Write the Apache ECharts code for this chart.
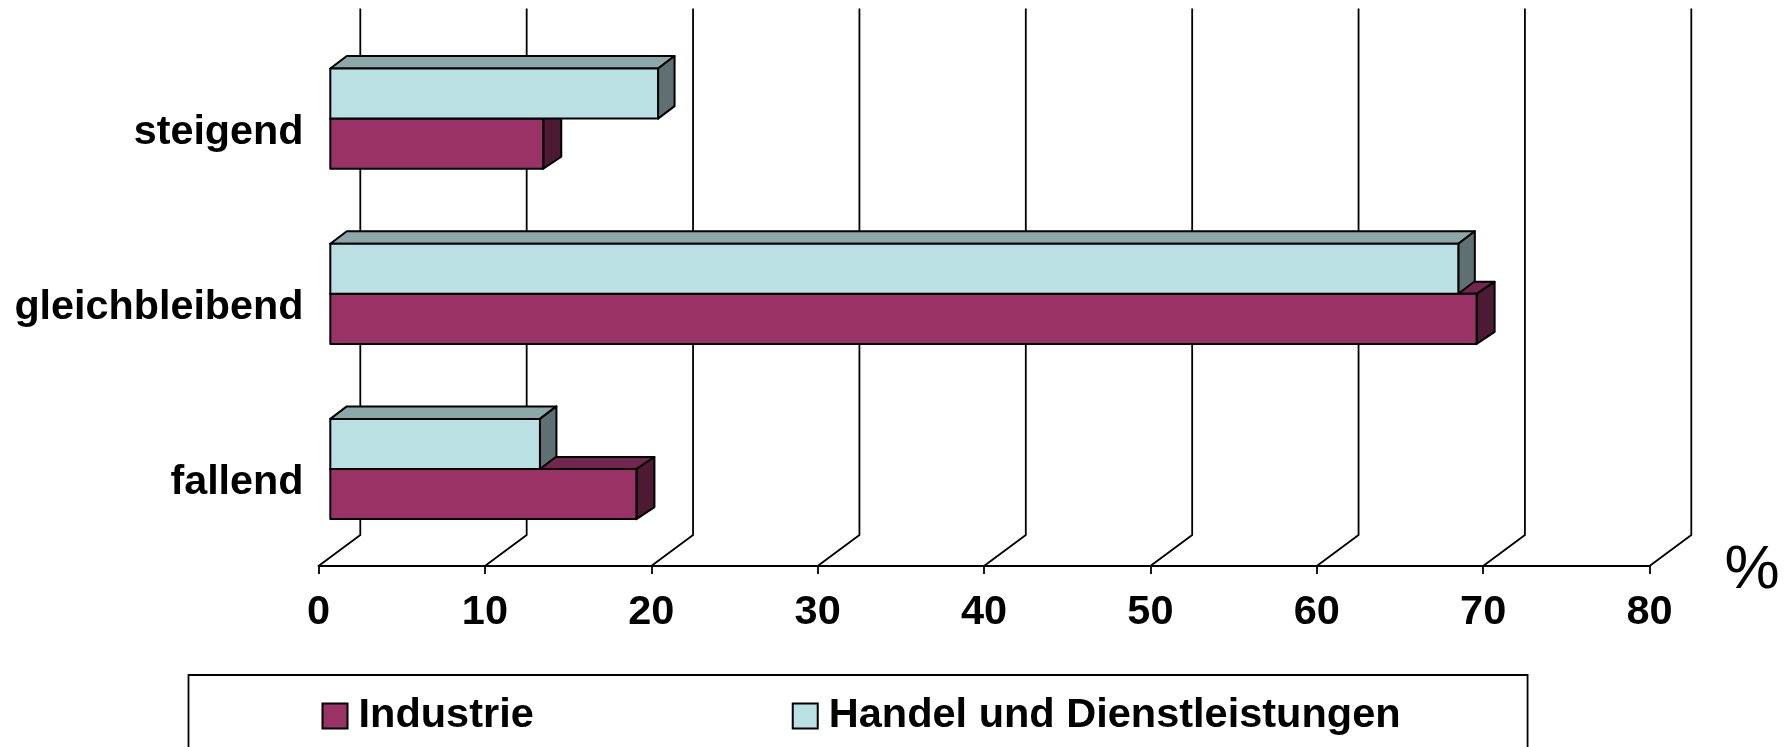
<!DOCTYPE html>
<html>
<head>
<meta charset="utf-8">
<style>
html, body { margin: 0; padding: 0; background: #fff; }
#chart { width: 1791px; height: 747px; }
</style>
<script src="https://cdn.jsdelivr.net/npm/echarts@6/dist/echarts.min.js"></script>
</head>
<body>
<div id="chart"></div>
<script>
// werte
var categories = ['steigend', 'gleichbleibend', 'fallend'];
var industrie = [12.8, 68.9, 18.4];
var handel = [19.7, 67.8, 12.6];
var xTicks = [0, 10, 20, 30, 40, 50, 60, 70, 80];

var FONT = '"Liberation Sans", Arial, sans-serif';

var mychart = echarts.init(document.getElementById('chart'));

// rueckwand und boden: pro tick eine linie
function renderWall(params, api) {
    var p = api.coord([api.value(0), 0]);
    var cs = params.coordSys;
    var bottom = cs.y + cs.height;
    return {
        type: 'polyline',
        shape: {
            points: [
                [p[0], bottom],
                [p[0] + 41.8, bottom - 31],
                [p[0] + 41.8, cs.y - 32]
            ]
        },
        style: { fill: null, stroke: '#000', lineWidth: 1.8 }
    };
}

// quader: front, deckel, seite
function barRenderer(dx, dy, sign, front, top, side) {
    return function (params, api) {
        var c = api.coord([0, api.value(1)]);
        var e = api.coord([api.value(0), api.value(1)]);
        var h = api.size([0, 1])[1] * 0.286;
        var x0 = c[0] + 11.8;
        var x1 = e[0] + 11.8;
        var yc = c[1] - 9.4;
        var y0 = sign < 0 ? yc - h : yc;
        var y1 = y0 + h;
        var line = { stroke: '#000', lineWidth: 2, lineJoin: 'round' };
        return {
            type: 'group',
            children: [{
                type: 'polygon',
                shape: { points: [[x0, y0], [x0 + dx, y0 + dy], [x1 + dx, y0 + dy], [x1, y0]] },
                style: echarts.util.extend({ fill: top }, line)
            }, {
                type: 'polygon',
                shape: { points: [[x1, y0], [x1 + dx, y0 + dy], [x1 + dx, y1 + dy], [x1, y1]] },
                style: echarts.util.extend({ fill: side }, line)
            }, {
                type: 'rect',
                shape: { x: x0, y: y0, width: x1 - x0, height: h },
                style: echarts.util.extend({ fill: front }, line)
            }]
        };
    };
}

function toPoints(values) {
    return values.map(function (v, i) { return [v, i]; });
}

var option = {
    animation: false,
    backgroundColor: '#fff',
    textStyle: { fontFamily: FONT },
    grid: { left: 318.5, top: 40.4, width: 1331, height: 525.6 },
    legend: {
        left: 188.5,
        top: 675,
        padding: [20, 127, 60, 133],
        data: ['Industrie', 'Handel und Dienstleistungen'],
        icon: 'rect',
        itemWidth: 25,
        itemHeight: 25,
        itemGap: 258,
        borderColor: '#000',
        borderWidth: 1.8,
        itemStyle: { borderColor: '#000', borderWidth: 2 },
        textStyle: { color: '#000', fontSize: 41.5, fontWeight: 'bold', fontFamily: FONT, padding: [0, 0, 0, 6] }
    },
    xAxis: {
        type: 'value',
        position: 'bottom',
        min: 0,
        max: 80,
        interval: 10,
        name: '%',
        nameLocation: 'end',
        nameGap: 75,
        nameTextStyle: { color: '#000', fontSize: 62, fontFamily: FONT, verticalAlign: 'top', lineHeight: 9 },
        axisLine: { show: true, onZero: false, lineStyle: { color: '#000', width: 1.8 } },
        axisTick: { show: true, length: 8, lineStyle: { color: '#000', width: 1.8 } },
        axisLabel: { color: '#000', fontSize: 41.5, fontWeight: 'bold', fontFamily: FONT, margin: 26 },
        splitLine: { show: false }
    },
    yAxis: {
        type: 'category',
        inverse: true,
        data: categories,
        axisLine: { show: false },
        axisTick: { show: false },
        axisLabel: { color: '#000', fontSize: 41.3, fontWeight: 'bold', fontFamily: FONT, margin: 15, verticalAlign: 'top', lineHeight: 9 }
    },
    series: [{
        name: 'wand',
        type: 'custom',
        renderItem: renderWall,
        encode: { x: 0 },
        data: xTicks.map(function (t) { return [t]; }),
        z: 1
    }, {
        name: 'Industrie',
        type: 'custom',
        renderItem: barRenderer(18, -12, 1, '#993366', '#73264D', '#4D1A33'),
        encode: { x: 0, y: 1 },
        itemStyle: { color: '#993366' },
        data: toPoints(industrie),
        z: 2
    }, {
        name: 'Handel und Dienstleistungen',
        type: 'custom',
        renderItem: barRenderer(16.5, -12.5, -1, '#BBE0E3', '#8CA8AA', '#5E7072'),
        encode: { x: 0, y: 1 },
        itemStyle: { color: '#BBE0E3' },
        data: toPoints(handel),
        z: 3
    }]
};

mychart.setOption(option);
</script>
</body>
</html>
